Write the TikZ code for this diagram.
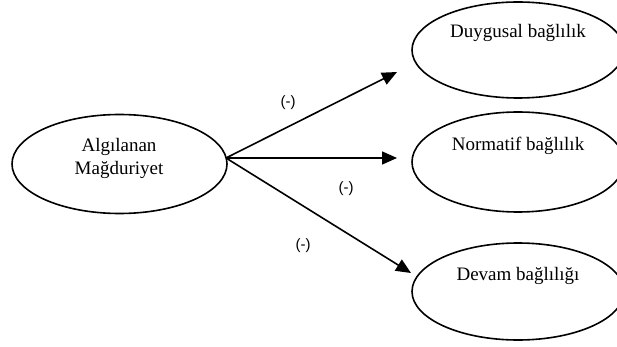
\documentclass[tikz,border=0pt]{standalone}
\usepackage{fontspec}
\setmainfont{Liberation Serif}
\setsansfont{Liberation Sans}
\usetikzlibrary{shapes.geometric,arrows.meta}
\begin{document}
\begin{tikzpicture}[x=1pt,y=-1pt,
  oval/.style={draw=black,line width=1.6pt,ellipse,inner sep=0pt,minimum width=#1},
  txt/.style={font=\fontsize{19}{23}\selectfont,align=center,inner sep=0pt},
  sign/.style={font=\sffamily\fontsize{15}{17}\selectfont,inner sep=0pt},
  arr/.style={line width=1.6pt,-{Triangle[length=15pt,width=13pt]}}]
\useasboundingbox (0,0) rectangle (617,347);
\node[oval=215pt,minimum height=99pt] (L) at (119.5,164) {};
\node[oval=212pt,minimum height=96pt] (A) at (518,50) {};
\node[oval=212pt,minimum height=100pt] (B) at (518,162) {};
\node[oval=212pt,minimum height=97pt] (C) at (518,291.5) {};
\node[txt] (Lt) at (119,158) {Algılanan\\Mağduriyet};
\node[txt] (At) at (518,33) {Duygusal bağlılık};
\node[txt] (Bt) at (518,146) {Normatif bağlılık};
\node[txt] (Ct) at (518,276) {Devam bağlılığı};
\coordinate (src) at (226,158);
\coordinate (t1) at (397,72);
\coordinate (t2) at (397,158);
\coordinate (t3) at (411,273);
\draw[arr] (src) -- (t1);
\draw[arr] (src) -- (t2);
\draw[arr] (src) -- (t3);
\node[sign] (s1) at (288,103) {(-)};
\node[sign] (s2) at (346,189) {(-)};
\node[sign] (s3) at (303,246) {(-)};
\end{tikzpicture}
\end{document}
